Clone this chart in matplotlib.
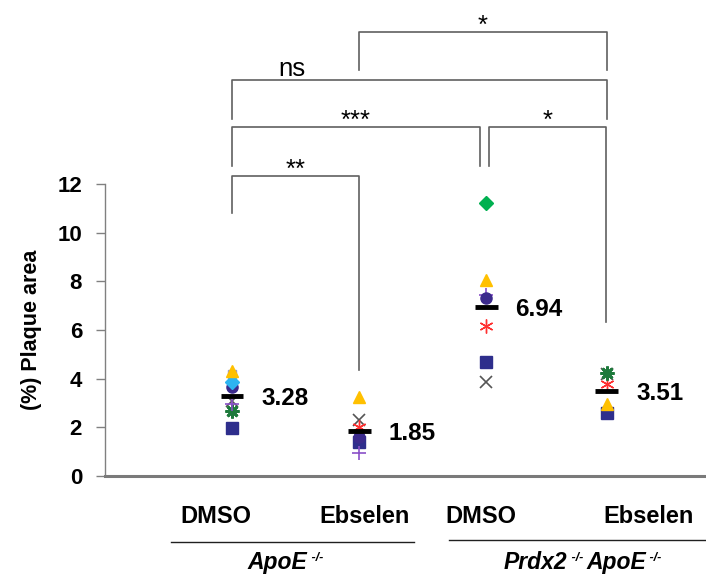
import numpy as np
import matplotlib
matplotlib.use("Agg")
import matplotlib.pyplot as plt
import matplotlib.transforms as mtransforms

plt.rcParams['font.family'] = ['Liberation Sans', 'DejaVu Sans']

nan = np.nan

# groups (x order): ApoE DMSO, ApoE Ebselen, Prdx2/ApoE DMSO, Prdx2/ApoE Ebselen
treatments = ['DMSO', 'Ebselen', 'DMSO', 'Ebselen']
xpos = [1, 2, 3, 3.95]

# one list per animal marker series, nan where the marker is absent
navy_square = [1.96, 1.40, 4.68, 2.57]
red_asterisk = [nan, 2.00, 6.15, 3.80]
green_star = [2.67, nan, nan, 4.25]
navy_circle = [3.66, 1.60, 7.30, nan]
orange_triangle = [4.30, 3.25, 8.05, 2.95]
cyan_diamond = [3.87, nan, nan, nan]
purple_plus = [2.95, 0.95, 7.45, nan]
gray_x = [3.10, 2.30, 3.85, 4.20]
green_diamond = [nan, nan, 11.20, nan]
lilac_square = [4.20, nan, nan, nan]

means = [3.28, 1.85, 6.94, 3.51]

# significance brackets: (x1, x2, top, left leg end, right leg end, label, label x)
brackets = [
    (2.0, 3.95, 18.25, 16.69, 16.69, '*', 2.975),
    (1.0, 3.95, 16.28, 14.67, 14.67, 'ns', 1.47),
    (1.0, 2.95, 14.34, 12.74, 12.74, '***', 1.975),
    (3.02, 3.945, 14.34, 12.74, 6.33, '*', 3.48),
    (1.0, 2.0, 12.33, 10.81, 4.36, '**', 1.5),
]

fig = plt.figure(figsize=(7.06, 5.82), dpi=100)
ax = fig.add_axes([105 / 706, 106 / 582, 601 / 706, 292 / 582])

series = [
    (gray_x, dict(marker='x', color='#555555', ms=8, mew=1.2)),
    (navy_square, dict(marker='s', color='#2E2E8C', ms=8)),
    (lilac_square, dict(marker='s', color='#9A9AC8', ms=6)),
    (red_asterisk, dict(marker=(6, 2, 0), color='#FF3030', ms=10, mew=1.0)),
    (green_star, dict(marker=(8, 2, 0), color='#1E7A3C', ms=10, mew=2.0)),
    (purple_plus, dict(marker='+', color='#8A50C8', ms=10, mew=1.2)),
    (navy_circle, dict(marker='o', color='#3B2A8C', ms=8)),
    (cyan_diamond, dict(marker='D', color='#2DB4F0', ms=7)),
    (orange_triangle, dict(marker='^', color='#FFC000', ms=9)),
    (green_diamond, dict(marker='D', color='#00B050', ms=7)),
]
for vals, style in series:
    ax.plot(xpos, vals, linestyle='none', **style, zorder=3)

# mean bars and labels
for x, m in zip(xpos, means):
    ax.plot([x - 0.09, x + 0.09], [m, m], color='black', lw=3.5, zorder=4,
            solid_capstyle='butt')
    ax.annotate(f'{m:.2f}', (x, m), xytext=(21, -2), textcoords='offset points',
                ha='left', va='center', fontsize=17.5, fontweight='bold')

# brackets
bc = '#606060'
for x1, x2, top, l_end, r_end, lab, lx in brackets:
    ax.plot([x1, x1, x2, x2], [l_end, top, top, r_end], color=bc, lw=1.2,
            clip_on=False, zorder=2)
    if lab == 'ns':
        ax.text(lx, top + 0.16, lab, ha='center', va='baseline', fontsize=18.5,
                clip_on=False)
    else:
        ax.text(lx, top - 0.05, lab, ha='center', va='baseline', fontsize=18.5,
                clip_on=False)

ax.set_xlim(0, 4.73)
ax.set_ylim(0, 12)
ax.set_yticks(range(0, 13, 2))
ax.set_xticks([])
for s in ['top', 'right']:
    ax.spines[s].set_visible(False)
ax.spines['left'].set_color('#808080')
ax.spines['left'].set_linewidth(1)
ax.spines['bottom'].set_color('#7a7a7a')
ax.spines['bottom'].set_linewidth(2.2)
ax.tick_params(axis='y', direction='out', length=6.5, width=1, color='#808080',
               pad=10, labelsize=16)
for t in ax.get_yticklabels():
    t.set_fontweight('bold')

ax.set_ylabel('(%) Plaque area', fontsize=15.5, fontweight='bold')
ax.yaxis.set_label_coords(-0.105, 0.5)

# treatment labels under the axis
trans = mtransforms.blended_transform_factory(ax.transData, ax.transAxes)
label_x = [0.874, 2.04, 2.96, 4.28]
for lx, name in zip(label_x, treatments):
    ax.text(lx, -0.14, name, transform=trans, ha='center', va='center',
            fontsize=17, fontweight='bold')

ax.plot([0.52, 2.43], [-0.226, -0.226], transform=trans, color='#202020',
        lw=1, clip_on=False)
ax.plot([2.71, 4.73], [-0.219, -0.219], transform=trans, color='#202020',
        lw=1, clip_on=False)


def rich_label(xc, yc, parts):
    """Draw bold italic text pieces (text, size, rise in px) centred at xc."""
    fig.canvas.draw()
    renderer = fig.canvas.get_renderer()
    widths = []
    objs = []
    for txt, size, rise in parts:
        t = ax.text(0, 0, txt, transform=trans, fontsize=size, fontweight='bold',
                    fontstyle='italic', ha='left', va='baseline')
        widths.append(t.get_window_extent(renderer).width)
        objs.append(t)
    total = sum(widths)
    xd, yd = trans.transform((xc, yc))
    cur = xd - total / 2
    for t, w, (txt, size, rise) in zip(objs, widths, parts):
        t.set_transform(mtransforms.IdentityTransform())
        t.set_position((cur, yd + rise))
        cur += w


rich_label(1.42, -0.318, [('ApoE', 16.5, 0), (' -/-', 9, 8)])
rich_label(3.76, -0.318, [('Prdx2', 16.5, 0), (' -/- ', 9, 8), ('ApoE', 16.5, 0),
                          (' -/-', 9, 8)])

fig.savefig('out.png', dpi=100)
